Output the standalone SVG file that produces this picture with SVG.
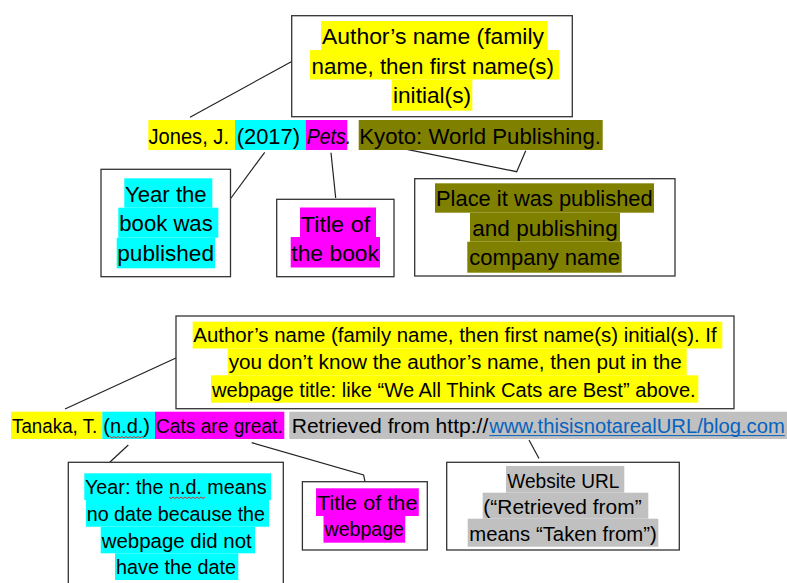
<svg xmlns="http://www.w3.org/2000/svg" width="787" height="583" viewBox="0 0 787 583">
<style>
text{font-family:"Liberation Sans",Arial,sans-serif;fill:#000}
.b{font-size:22.5px}
.s{font-size:20.5px}
.box{fill:#fff;stroke:#333;stroke-width:1.3}
.hy{fill:#FFFF00}.hc{fill:#00FFFF}.hm{fill:#FF00FF}.ho{fill:#808000}.hg{fill:#C0C0C0}
.con{fill:none;stroke:#222;stroke-width:1.2}
.wavy{fill:none;stroke:#E02020;stroke-width:0.9}
.link{fill:#0563C1;font-size:20px}
</style>
<rect width="787" height="583" fill="#fff"/>

<g id="connectors">
<polyline class="con" points="190,117.3 291.7,61.5"/>
<polyline class="con" points="264.7,152.3 230.3,199"/>
<polyline class="con" points="331,152.7 335.7,198"/>
<polyline class="con" points="393.3,146.7 516.7,171.7 525.7,150.7"/>
<polyline class="con" points="65,409 176.5,357.8"/>
<polyline class="con" points="128.3,445 110,462"/>
<polyline class="con" points="251.7,442.7 363.6,475 365,481.7"/>
<polyline class="con" points="529,440 539,458.5"/>
</g>

<g id="node-author-book">
<rect class="box" x="291.7" y="15.7" width="280.6" height="101"/>
<rect class="hy" x="321" y="21" width="226.7" height="29"/>
<rect class="hy" x="310" y="50" width="249.3" height="29.5"/>
<rect class="hy" x="391.7" y="79.5" width="80.6" height="31.2"/>
<text class="b" x="322" y="44.3" textLength="222" lengthAdjust="spacingAndGlyphs">Author’s name (family</text>
<text class="b" x="311.5" y="73.5" textLength="242.5" lengthAdjust="spacingAndGlyphs">name, then first name(s)</text>
<text class="b" x="393" y="102.7" textLength="78" lengthAdjust="spacingAndGlyphs">initial(s)</text>
</g>

<g id="citation-book">
<rect class="hy" x="148.3" y="120" width="86.7" height="30"/>
<rect class="hc" x="235" y="120" width="70.7" height="30"/>
<rect class="hm" x="305.7" y="120" width="41.6" height="30"/>
<rect class="ho" x="358.7" y="120" width="244" height="30"/>
<text class="b" x="148.5" y="144.3" textLength="80.5" lengthAdjust="spacingAndGlyphs">Jones, J.</text>
<text class="b" x="236.7" y="144.3" textLength="63.3" lengthAdjust="spacingAndGlyphs">(2017)</text>
<text class="b" x="306.7" y="144.3" textLength="44.5" lengthAdjust="spacingAndGlyphs" font-style="italic">Pets.</text>
<text class="b" x="359.3" y="144.3" textLength="241.7" lengthAdjust="spacingAndGlyphs">Kyoto: World Publishing.</text>
</g>

<g id="node-year-book">
<rect class="box" x="101" y="169.3" width="129.5" height="107.4"/>
<rect class="hc" x="124.3" y="178.3" width="88" height="29.4"/>
<rect class="hc" x="118.3" y="207.7" width="100" height="30"/>
<rect class="hc" x="116.7" y="237.7" width="98.3" height="30.6"/>
<text class="b" x="125" y="201.7" textLength="81.7" lengthAdjust="spacingAndGlyphs">Year the</text>
<text class="b" x="119.3" y="231.3" textLength="93.4" lengthAdjust="spacingAndGlyphs">book was</text>
<text class="b" x="117.3" y="261" textLength="96.7" lengthAdjust="spacingAndGlyphs">published</text>
</g>

<g id="node-title-book">
<rect class="box" x="276.7" y="199.3" width="117.3" height="77.4"/>
<rect class="hm" x="300" y="207.5" width="76" height="29.5"/>
<rect class="hm" x="290.7" y="237" width="89.3" height="30.5"/>
<text class="b" x="300.7" y="231.7" textLength="69.6" lengthAdjust="spacingAndGlyphs">Title of</text>
<text class="b" x="291.3" y="260.7" textLength="87.7" lengthAdjust="spacingAndGlyphs">the book</text>
</g>

<g id="node-place">
<rect class="box" x="414.7" y="178.7" width="260.3" height="97.3"/>
<rect class="ho" x="435" y="183.3" width="219" height="29.4"/>
<rect class="ho" x="470" y="212.7" width="150" height="29"/>
<rect class="ho" x="467.3" y="241.7" width="154.4" height="31"/>
<text class="b" x="436" y="206" textLength="216.7" lengthAdjust="spacingAndGlyphs">Place it was published</text>
<text class="b" x="472.3" y="236" textLength="145.4" lengthAdjust="spacingAndGlyphs">and publishing</text>
<text class="b" x="469.3" y="265.3" textLength="150.7" lengthAdjust="spacingAndGlyphs">company name</text>
</g>

<g id="node-author-web">
<rect class="box" x="176" y="316" width="558" height="92.7"/>
<rect class="hy" x="192.7" y="321.7" width="529.6" height="26.8"/>
<rect class="hy" x="227.7" y="348.5" width="459" height="26.8"/>
<rect class="hy" x="211" y="375.3" width="487.3" height="27.4"/>
<text class="s" x="193.3" y="342.3" textLength="523.4" lengthAdjust="spacingAndGlyphs">Author’s name (family name, then first name(s) initial(s). If</text>
<text class="s" x="228.7" y="369.3" textLength="453" lengthAdjust="spacingAndGlyphs">you don’t know the author’s name, then put in the</text>
<text class="s" x="212" y="396.5" textLength="483.7" lengthAdjust="spacingAndGlyphs">webpage title: like “We All Think Cats are Best” above.</text>
</g>

<g id="citation-web">
<rect class="hy" x="11" y="411.7" width="91.3" height="27.3"/>
<rect class="hc" x="102.3" y="411.7" width="52.7" height="27.3"/>
<rect class="hm" x="155" y="411.7" width="129.3" height="27.3"/>
<rect class="hg" x="289.3" y="411.7" width="497.7" height="27.3"/>
<text class="s" x="12" y="432.7" textLength="85.3" lengthAdjust="spacingAndGlyphs">Tanaka, T.</text>
<text class="s" x="103.3" y="432.7" textLength="46.7" lengthAdjust="spacingAndGlyphs">(n.d.)</text>
<text class="s" x="156" y="432.7" textLength="126.7" lengthAdjust="spacingAndGlyphs">Cats are great.</text>
<text class="s" x="291.7" y="432.7" textLength="196.6" lengthAdjust="spacingAndGlyphs">Retrieved from http://</text>
<text class="link" x="489.3" y="432.7" textLength="295.5" lengthAdjust="spacingAndGlyphs">www.thisisnotarealURL/blog.com</text>
<line x1="489.3" y1="435.6" x2="784.8" y2="435.6" stroke="#0563C1" stroke-width="1"/>
<path class="wavy" d="M110,436.5 l2,1.5 l2,-1.5 l2,1.5 l2,-1.5 l2,1.5 l2,-1.5 l2,1.5 l2,-1.5 l2,1.5 l2,-1.5 l2,1.5 l2,-1.5 l2,1.5 l2,-1.5 l2,1.5 l2,-1.5 l2,1.5"/>
</g>

<g id="node-year-web">
<rect class="box" x="68.3" y="462.3" width="215" height="140"/>
<rect class="hc" x="84.3" y="473.3" width="186.7" height="26.7"/>
<rect class="hc" x="86" y="500" width="183" height="26.7"/>
<rect class="hc" x="100.7" y="526.7" width="154.3" height="26.6"/>
<rect class="hc" x="115" y="553.3" width="123.3" height="26.7"/>
<text class="s" x="85" y="494" textLength="181.7" lengthAdjust="spacingAndGlyphs">Year: the n.d. means</text>
<text class="s" x="86.7" y="520.7" textLength="178.3" lengthAdjust="spacingAndGlyphs">no date because the</text>
<text class="s" x="101.7" y="547.5" textLength="150" lengthAdjust="spacingAndGlyphs">webpage did not</text>
<text class="s" x="116" y="574" textLength="120" lengthAdjust="spacingAndGlyphs">have the date</text>
<path class="wavy" d="M169,497 l2,1.5 l2,-1.5 l2,1.5 l2,-1.5 l2,1.5 l2,-1.5 l2,1.5 l2,-1.5 l2,1.5 l2,-1.5 l2,1.5 l2,-1.5 l2,1.5 l2,-1.5 l2,1.5 l2,-1.5 l2,1.5 l2,-1.5"/>
</g>

<g id="node-title-web">
<rect class="box" x="302.4" y="481.7" width="124.9" height="68.3"/>
<rect class="hm" x="316" y="488.3" width="102.8" height="27.7"/>
<rect class="hm" x="323.5" y="516" width="81.7" height="26.7"/>
<text class="s" x="317" y="509.5" textLength="100.5" lengthAdjust="spacingAndGlyphs">Title of the</text>
<text class="s" x="324.5" y="536.3" textLength="79.5" lengthAdjust="spacingAndGlyphs">webpage</text>
</g>

<g id="node-url">
<rect class="box" x="446.7" y="462.3" width="232.6" height="87.7"/>
<rect class="hg" x="506" y="466" width="118.3" height="26.7"/>
<rect class="hg" x="482.7" y="492.7" width="165.6" height="26"/>
<rect class="hg" x="467.7" y="518.7" width="190.6" height="28"/>
<text class="s" x="507.3" y="487.7" textLength="112" lengthAdjust="spacingAndGlyphs">Website URL</text>
<text class="s" x="483.3" y="514.3" textLength="158.4" lengthAdjust="spacingAndGlyphs">(“Retrieved from”</text>
<text class="s" x="469.3" y="541" textLength="187.4" lengthAdjust="spacingAndGlyphs">means “Taken from”)</text>
</g>
</svg>
